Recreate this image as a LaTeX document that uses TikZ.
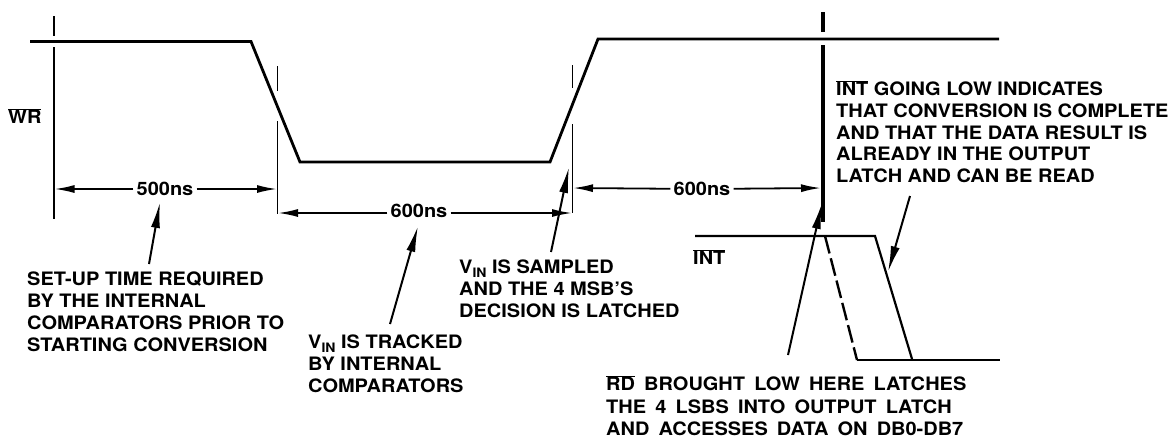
\documentclass[tikz,border=0pt]{standalone}
\usepackage{fontspec}
\setmainfont[FakeStretch=1.08]{TeX Gyre Heros}
\usetikzlibrary{arrows.meta}
\newcommand{\barred}[1]{$\overline{\mbox{#1}}$}
\newcommand{\vin}{V\raisebox{-4pt}{\fontsize{13}{13}\selectfont\bfseries IN}}
\newcommand{\wsp}{ \hspace{3.6pt}}
\tikzset{
  sig/.style={line width=2.8pt,line join=miter},
  tick/.style={line width=1.5pt},
  heavytick/.style={line width=4pt},
  dim/.style={line width=1.8pt,-{Latex[length=20pt,width=8pt]}},
  lead/.style={line width=2pt,-{Latex[length=26pt,width=9pt]}},
  txt/.style={anchor=north west,inner sep=0pt,align=left,font=\fontsize{18.5}{21.7}\selectfont\bfseries},
  widetxt/.style={txt,font=\fontsize{18.5}{22.6}\selectfont\bfseries},
  dimlbl/.style={inner sep=3pt,font=\fontsize{18.5}{18.5}\selectfont\bfseries}
}
\begin{document}
\begin{tikzpicture}[x=1pt,y=-1pt]
\useasboundingbox[fill=white] (0,0) rectangle (1174,440);
\coordinate (w0) at (30,41.5); \coordinate (w1) at (251,41.5); \coordinate (w2) at (300,162);
\coordinate (w3) at (550,162); \coordinate (w4) at (598,39); \coordinate (w5) at (999,39);
\draw[sig] (w0)--(w1)--(w2)--(w3)--(w4)--(w5);
\coordinate (a0) at (54,16); \coordinate (a1) at (54,36); \coordinate (a2) at (54,47); \coordinate (a3) at (54,219);
\draw[tick] (a0)--(a1) (a2)--(a3);
\coordinate (b0) at (277.5,66); \coordinate (b1) at (277.5,91); \coordinate (b2) at (277.5,121); \coordinate (b3) at (277.5,214);
\draw[tick] (b0)--(b1) (b2)--(b3);
\coordinate (c0) at (572.5,65); \coordinate (c1) at (572.5,88); \coordinate (c2) at (572.5,124); \coordinate (c3) at (572.5,213);
\draw[tick] (c0)--(c1) (c2)--(c3);
\coordinate (d0) at (823,12); \coordinate (d1) at (823,32); \coordinate (d2) at (823,45); \coordinate (d3) at (823,222);
\draw[heavytick] (d0)--(d1) (d2)--(d3);
\coordinate (e1) at (54.5,189); \coordinate (e2) at (277,189);
\node[dimlbl] (t1) at (165,189) {500ns};
\draw[dim] (t1)--(e1); \draw[dim] (t1)--(e2);
\coordinate (f1) at (278,213); \coordinate (f2) at (572,213);
\node[dimlbl] (t2) at (419,211) {600ns};
\draw[dim] (t2.west|-f1)--(f1); \draw[dim] (t2.east|-f1)--(f2);
\coordinate (g1) at (573,188); \coordinate (g2) at (821,188);
\node[dimlbl] (t3) at (702,189) {600ns};
\draw[dim] (t3)--(g1); \draw[dim] (t3)--(g2);
\coordinate (i0) at (695,236); \coordinate (i1) at (875,236); \coordinate (i2) at (912,359);
\coordinate (i3) at (857,360); \coordinate (i4) at (1000,360); \coordinate (i5) at (825,236);
\draw[line width=2.2pt] (i0)--(i1)--(i2);
\draw[sig] (i3)--(i4);
\draw[line width=2.4pt,dash pattern=on 18pt off 5pt] (i5)--(i3);
\node[txt] (wr) at (8,108) {\barred{WR}};
\node[txt] (int) at (693,249) {\barred{INT}};
\node[txt] (n1) at (27,272) {SET-UP TIME REQUIRED\\BY THE INTERNAL\\COMPARATORS PRIOR TO\\STARTING CONVERSION};
\node[txt] (n2) at (308,335) {\vin{} IS TRACKED\\BY INTERNAL\\COMPARATORS};
\node[txt] (n3) at (459,260) {\vin{} IS SAMPLED\\AND THE 4 MSB'S\\DECISION IS LATCHED};
\node[txt] (n4) at (836,80) {\barred{INT} GOING LOW INDICATES\\THAT CONVERSION IS COMPLETE\\AND THAT THE DATA RESULT IS\\ALREADY IN THE OUTPUT\\LATCH AND CAN BE READ};
\node[widetxt] (n5) at (606,375) {\barred{RD}\wsp BROUGHT\wsp LOW\wsp HERE\wsp LATCHES\\THE\wsp 4\wsp LSBS\wsp INTO\wsp OUTPUT\wsp LATCH\\AND\wsp ACCESSES\wsp DATA\wsp ON\wsp DB0-DB7};
\coordinate (l1s) at (149,264); \coordinate (l1e) at (160,202);
\draw[lead] (l1s)--(l1e);
\coordinate (l2s) at (390,324); \coordinate (l2e) at (418,226);
\draw[lead] (l2s)--(l2e);
\coordinate (l3s) at (551,252); \coordinate (l3e) at (569,167);
\draw[lead] (l3s)--(l3e);
\coordinate (l4s) at (788,355); \coordinate (l4e) at (822,203);
\draw[lead] (l4s)--(l4e);
\coordinate (l5s) at (910,196); \coordinate (l5e) at (888,272);
\draw[lead] (l5s)--(l5e);
\end{tikzpicture}
\end{document}
